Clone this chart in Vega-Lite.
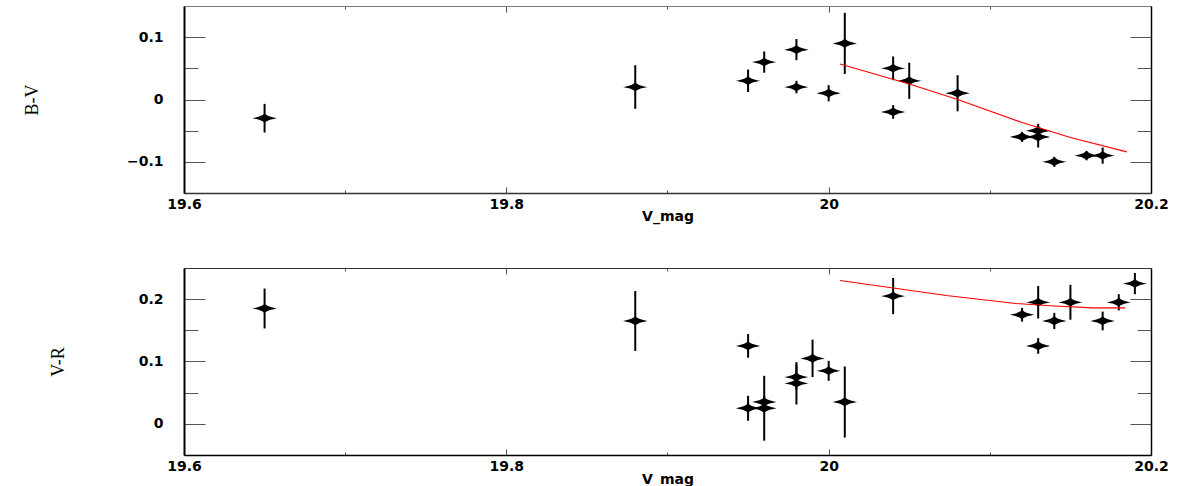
{
  "$schema": "https://vega.github.io/schema/vega-lite/v6.json",
  "padding": {"left": 23, "top": 5, "right": 5, "bottom": 0},
  "background": "white",
  "config": {
    "view": {"stroke": null},
    "axis": {
      "grid": false,
      "labelFont": "DejaVu Sans",
      "labelFontWeight": "bold",
      "labelFontSize": 14,
      "labelColor": "black",
      "labelFlush": false,
      "labelOverlap": false,
      "domainColor": "#333",
      "domainWidth": 1.5,
      "tickColor": "#555",
      "tickWidth": 1,
      "titleColor": "black"
    }
  },
  "datasets": {
    "bv": [
      {"V": 19.65, "BV": -0.03, "err": 0.023},
      {"V": 19.88, "BV": 0.02, "err": 0.035},
      {"V": 19.95, "BV": 0.03, "err": 0.018},
      {"V": 19.96, "BV": 0.06, "err": 0.017},
      {"V": 19.98, "BV": 0.08, "err": 0.017},
      {"V": 19.98, "BV": 0.02, "err": 0.01},
      {"V": 20.0, "BV": 0.01, "err": 0.013},
      {"V": 20.01, "BV": 0.09, "err": 0.049},
      {"V": 20.04, "BV": 0.05, "err": 0.019},
      {"V": 20.04, "BV": -0.02, "err": 0.011},
      {"V": 20.05, "BV": 0.03, "err": 0.029},
      {"V": 20.08, "BV": 0.01, "err": 0.029},
      {"V": 20.12, "BV": -0.06, "err": 0.008},
      {"V": 20.13, "BV": -0.05, "err": 0.011},
      {"V": 20.13, "BV": -0.06, "err": 0.017},
      {"V": 20.14, "BV": -0.10, "err": 0.008},
      {"V": 20.16, "BV": -0.09, "err": 0.0075},
      {"V": 20.17, "BV": -0.09, "err": 0.013}
    ],
    "vr": [
      {"V": 19.65, "VR": 0.185, "err": 0.032},
      {"V": 19.88, "VR": 0.165, "err": 0.048},
      {"V": 19.95, "VR": 0.125, "err": 0.019},
      {"V": 19.95, "VR": 0.025, "err": 0.02},
      {"V": 19.96, "VR": 0.035, "err": 0.01},
      {"V": 19.96, "VR": 0.025, "err": 0.052},
      {"V": 19.98, "VR": 0.075, "err": 0.02},
      {"V": 19.98, "VR": 0.065, "err": 0.034},
      {"V": 19.99, "VR": 0.105, "err": 0.030},
      {"V": 20.0, "VR": 0.085, "err": 0.016},
      {"V": 20.01, "VR": 0.035, "err": 0.057},
      {"V": 20.04, "VR": 0.205, "err": 0.029},
      {"V": 20.12, "VR": 0.175, "err": 0.011},
      {"V": 20.13, "VR": 0.195, "err": 0.026},
      {"V": 20.13, "VR": 0.125, "err": 0.0125},
      {"V": 20.14, "VR": 0.165, "err": 0.013},
      {"V": 20.15, "VR": 0.195, "err": 0.028},
      {"V": 20.17, "VR": 0.165, "err": 0.015},
      {"V": 20.18, "VR": 0.195, "err": 0.013},
      {"V": 20.19, "VR": 0.225, "err": 0.017}
    ],
    "fitbv": [
      {"V": 20.007, "fit": 0.057},
      {"V": 20.05, "fit": 0.025},
      {"V": 20.08, "fit": 0.0},
      {"V": 20.12, "fit": -0.037},
      {"V": 20.15, "fit": -0.061},
      {"V": 20.185, "fit": -0.084}
    ],
    "fitvr": [
      {"V": 20.007, "fit": 0.230},
      {"V": 20.04, "fit": 0.218},
      {"V": 20.073, "fit": 0.206},
      {"V": 20.116, "fit": 0.193},
      {"V": 20.14, "fit": 0.189},
      {"V": 20.164, "fit": 0.186},
      {"V": 20.184, "fit": 0.186}
    ]
  },
  "spacing": 75,
  "bounds": "flush",
  "vconcat": [
    {
      "width": 967,
      "height": 187,
      "resolve": {"axis": {"x": "independent", "y": "independent"}},
      "layer": [
        {
          "data": {"name": "bv"},
          "mark": {"type": "errorbar", "color": "black", "thickness": 2, "ticks": false},
          "encoding": {
            "x": {"field": "V", "type": "quantitative", "scale": {"domain": [19.6, 20.2], "nice": false, "zero": false}, "axis": null},
            "y": {"field": "BV", "type": "quantitative", "scale": {"domain": [-0.15, 0.15], "nice": false, "zero": false}, "axis": null},
            "yError": {"field": "err"}
          }
        },
        {
          "data": {"name": "bv"},
          "mark": {"type": "point", "filled": true, "color": "black", "opacity": 1, "strokeWidth": 0, "size": 600,
                   "shape": "M-1,0 C-0.5,-0.1 -0.2,-0.18 0,-0.38 C0.2,-0.18 0.5,-0.1 1,0 C0.5,0.1 0.2,0.18 0,0.38 C-0.2,0.18 -0.5,0.1 -1,0 Z"},
          "encoding": {
            "x": {"field": "V", "type": "quantitative", "scale": {"domain": [19.6, 20.2], "nice": false, "zero": false},
                  "axis": {"orient": "bottom", "values": [19.6, 19.7, 19.8, 19.9, 20.0, 20.1, 20.2],
                           "labelExpr": "round(datum.value*10) % 2 == 0 ? format(datum.value, '~g') : ''",
                           "tickSize": {"condition": {"test": "round(datum.value*10) % 2 == 0", "value": -6}, "value": -3},
                           "labelPadding": 10,
                           "title": "V_mag", "titleFont": "DejaVu Sans", "titleFontWeight": "bold", "titleFontSize": 14,
                           "titleY": 23, "titleBaseline": "middle"}},
            "y": {"field": "BV", "type": "quantitative", "scale": {"domain": [-0.15, 0.15], "nice": false, "zero": false},
                  "axis": {"orient": "left", "values": [-0.1, -0.05, 0, 0.05, 0.1],
                           "labelExpr": "abs(round(datum.value*20)) % 2 == 0 ? format(datum.value, '~g') : ''",
                           "tickSize": {"condition": {"test": "abs(round(datum.value*20)) % 2 == 0", "value": -21}, "value": -14},
                           "labelPadding": 42, "domainColor": "black", "domainWidth": 2,
                           "title": "B-V", "titleFont": "Liberation Serif", "titleFontWeight": "normal", "titleFontSize": 18,
                           "titleX": -152, "titleBaseline": "middle", "titleAngle": -90}}
          }
        },
        {
          "data": {"name": "fitbv"},
          "mark": {"type": "line", "color": "red", "strokeWidth": 1.1},
          "encoding": {
            "x": {"field": "V", "type": "quantitative", "scale": {"domain": [19.6, 20.2], "nice": false, "zero": false},
                  "axis": {"orient": "top", "values": [19.6, 19.7, 19.8, 19.9, 20.0, 20.1, 20.2], "labels": false, "title": null,
                           "domainColor": "#777", "domainWidth": 1,
                           "tickSize": {"condition": {"test": "round(datum.value*10) % 2 == 0", "value": -6}, "value": -3}}},
            "y": {"field": "fit", "type": "quantitative", "scale": {"domain": [-0.15, 0.15], "nice": false, "zero": false},
                  "axis": {"orient": "right", "values": [-0.1, -0.05, 0, 0.05, 0.1], "labels": false, "title": null,
                           "domainColor": "black", "domainWidth": 1.5,
                           "tickSize": {"condition": {"test": "abs(round(datum.value*20)) % 2 == 0", "value": -21}, "value": -14}}}
          }
        }
      ]
    },
    {
      "width": 967,
      "height": 187,
      "resolve": {"axis": {"x": "independent", "y": "independent"}},
      "layer": [
        {
          "data": {"name": "vr"},
          "mark": {"type": "errorbar", "color": "black", "thickness": 2, "ticks": false},
          "encoding": {
            "x": {"field": "V", "type": "quantitative", "scale": {"domain": [19.6, 20.2], "nice": false, "zero": false}, "axis": null},
            "y": {"field": "VR", "type": "quantitative", "scale": {"domain": [-0.05, 0.25], "nice": false, "zero": false}, "axis": null},
            "yError": {"field": "err"}
          }
        },
        {
          "data": {"name": "vr"},
          "mark": {"type": "point", "filled": true, "color": "black", "opacity": 1, "strokeWidth": 0, "size": 600,
                   "shape": "M-1,0 C-0.5,-0.1 -0.2,-0.18 0,-0.38 C0.2,-0.18 0.5,-0.1 1,0 C0.5,0.1 0.2,0.18 0,0.38 C-0.2,0.18 -0.5,0.1 -1,0 Z"},
          "encoding": {
            "x": {"field": "V", "type": "quantitative", "scale": {"domain": [19.6, 20.2], "nice": false, "zero": false},
                  "axis": {"orient": "bottom", "values": [19.6, 19.7, 19.8, 19.9, 20.0, 20.1, 20.2],
                           "labelExpr": "round(datum.value*10) % 2 == 0 ? format(datum.value, '~g') : ''",
                           "tickSize": {"condition": {"test": "round(datum.value*10) % 2 == 0", "value": -6}, "value": -3},
                           "labelPadding": 10, "domainColor": "black",
                           "title": "V_mag", "titleFont": "DejaVu Sans", "titleFontWeight": "bold", "titleFontSize": 14,
                           "titleY": 24, "titleBaseline": "middle"}},
            "y": {"field": "VR", "type": "quantitative", "scale": {"domain": [-0.05, 0.25], "nice": false, "zero": false},
                  "axis": {"orient": "left", "values": [0, 0.05, 0.1, 0.15, 0.2],
                           "labelExpr": "abs(round(datum.value*20)) % 2 == 0 ? format(datum.value, '~g') : ''",
                           "tickSize": {"condition": {"test": "abs(round(datum.value*20)) % 2 == 0", "value": -21}, "value": -14},
                           "labelPadding": 42, "domainColor": "black", "domainWidth": 2,
                           "title": "V-R", "titleFont": "Liberation Serif", "titleFontWeight": "normal", "titleFontSize": 18,
                           "titleX": -126, "titleBaseline": "middle", "titleAngle": -90}}
          }
        },
        {
          "data": {"name": "fitvr"},
          "mark": {"type": "line", "color": "red", "strokeWidth": 1.1},
          "encoding": {
            "x": {"field": "V", "type": "quantitative", "scale": {"domain": [19.6, 20.2], "nice": false, "zero": false},
                  "axis": {"orient": "top", "values": [19.6, 19.7, 19.8, 19.9, 20.0, 20.1, 20.2], "labels": false, "title": null,
                           "domainColor": "#333", "domainWidth": 1,
                           "tickSize": {"condition": {"test": "round(datum.value*10) % 2 == 0", "value": -6}, "value": -3}}},
            "y": {"field": "fit", "type": "quantitative", "scale": {"domain": [-0.05, 0.25], "nice": false, "zero": false},
                  "axis": {"orient": "right", "values": [0, 0.05, 0.1, 0.15, 0.2], "labels": false, "title": null,
                           "domainColor": "black", "domainWidth": 1.5,
                           "tickSize": {"condition": {"test": "abs(round(datum.value*20)) % 2 == 0", "value": -21}, "value": -14}}}
          }
        }
      ]
    }
  ]
}
